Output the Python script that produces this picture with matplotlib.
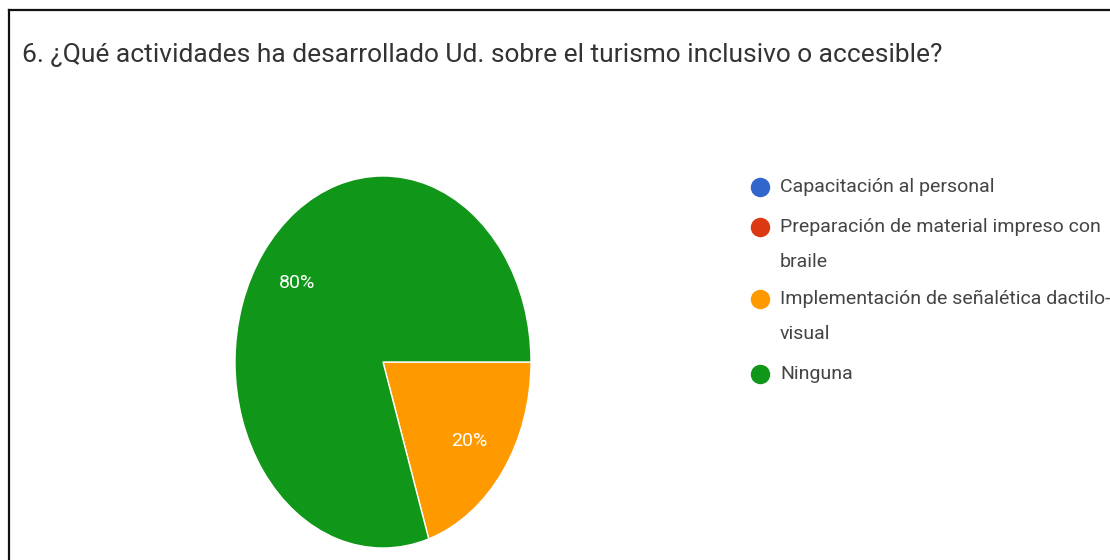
import matplotlib
matplotlib.use("Agg")
import matplotlib.pyplot as plt
from matplotlib.lines import Line2D
import numpy as np

title = "6. ¿Qué actividades ha desarrollado Ud. sobre el turismo inclusivo o accesible?"
categories = ["Capacitación al personal",
              "Preparación de material impreso con\nbraile",
              "Implementación de señalética dactilo-\nvisual",
              "Ninguna"]
values = [0, 0, 20, 80]
colors = ["#3366cc", "#dc3912", "#ff9900", "#109618"]

W, H = 1110, 560
fig = plt.figure(figsize=(W / 100, H / 100), dpi=100)
fig.patch.set_facecolor("white")
font = ["Roboto", "DejaVu Sans"]

# border lines (top and left)
fig.add_artist(Line2D([9 / W, 1], [1 - 10 / H, 1 - 10 / H], color="#111111", lw=1.6))
fig.add_artist(Line2D([9 / W, 9 / W], [0, 1 - 10 / H], color="#111111", lw=1.6))

fig.text(22 / W, 1 - 55 / H, title, fontsize=19, color="#333333",
         family=font, va="center", ha="left")

# pie (elliptical, like the reference)
cx, cy, rx, ry = 383, 362, 148, 186
ax = fig.add_axes([(cx - rx) / W, 1 - (cy + ry) / H, 2 * rx / W, 2 * ry / H])
wedges, texts = ax.pie(values, colors=colors, startangle=0, counterclock=False,
                       wedgeprops=dict(edgecolor="white", linewidth=1.0))
ax.set_aspect("auto")
ax.set_xlim(-1, 1)
ax.set_ylim(-1, 1)
ax.axis("off")

# percentage labels
start = 0.0
total = sum(values)
for v in values:
    if v > 0:
        frac = v / total
        mid = np.deg2rad(start - frac * 360 / 2)
        r = 0.72
        ax.text(r * np.cos(mid), r * np.sin(mid), f"{v}%", color="white",
                fontsize=14, family=font, ha="center", va="center")
    start -= v / total * 360

# legend
rows_y = [187, 227, 299, 374]
line_gap = 35
for cat, col, y in zip(categories, colors, rows_y):
    fig.add_artist(Line2D([760 / W], [1 - y / H], marker="o", markersize=13,
                          color=col, linestyle="none"))
    for i, line in enumerate(cat.split("\n")):
        fig.text(780 / W, 1 - (y + i * line_gap) / H, line, fontsize=14,
                 color="#444444", family=font, va="center", ha="left")

fig.savefig("out.png", dpi=100, facecolor="white")
